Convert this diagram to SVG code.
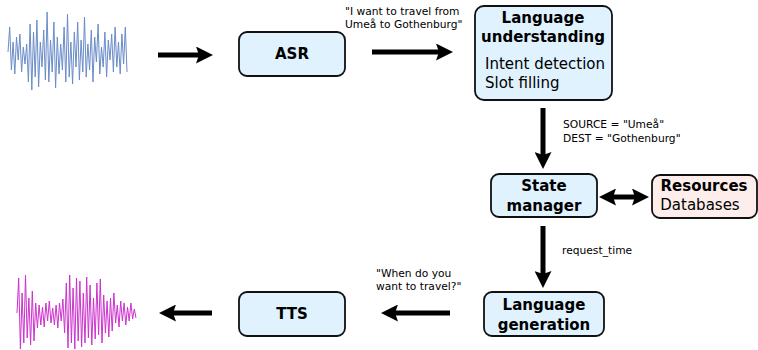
<svg xmlns="http://www.w3.org/2000/svg" width="758" height="350" viewBox="0 0 758 350">
<style>
text{font-family:"DejaVu Sans","Liberation Sans",sans-serif;fill:#000}
.box{fill:#dff2fd;stroke:#111;stroke-width:1.8}
.res{fill:#fdeeec;stroke:#111;stroke-width:1.8}
.b{font-weight:bold;font-size:15px;text-anchor:middle}
.n{font-size:15px}
.s{font-size:10.7px}
.arr{stroke:#000;stroke-width:5;fill:none;marker-end:url(#ah)}
.wave{fill:none;stroke-width:1;stroke-linejoin:round}
</style>
<defs>
<marker id="ah" markerUnits="userSpaceOnUse" viewBox="0 0 17 17" markerWidth="17" markerHeight="17" refX="4" refY="8.5" orient="auto-start-reverse">
<path d="M0,0 L17,8.5 L0,17 L3,8.5 z" fill="#000"/>
</marker>
</defs>
<rect width="758" height="350" fill="#fff"/>
<g id="wave-in">
<polyline class="wave" stroke="#6a8cc8" points="8,52 9.7,27 11.4,70 13.1,42 14.8,74 16.5,37 18.2,60 19.9,34 21.6,72 23.3,47 25,64 26.7,44 28.4,82 30.1,24 31.8,90 33.5,32 35.2,77 36.9,20 38.6,87 40.3,42 42,67 43.7,30 45.4,80 47.1,12 48.8,82 50.5,40 52.2,72 53.9,22 55.6,88 57.3,37 59,74 60.7,44 62.4,70 64.1,27 65.8,82 67.5,14 69.2,77 70.9,42 72.6,84 74.3,32 76,67 77.7,22 79.4,80 81.1,40 82.8,72 84.5,17 86.2,77 87.9,44 89.6,70 91.3,30 93,82 94.7,37 96.4,62 98.1,24 99.8,74 101.5,47 103.2,67 104.9,32 106.6,77 108.3,40 110,60 111.7,34 113.4,72 115.1,27 116.8,67 118.5,42 120.2,74 121.9,34 123.6,64 125.3,27 127,72"/>
</g>
<g id="wave-out">
<polyline class="wave" stroke="#cc33cc" points="17,313 18.7,278 20.4,349 22.1,293 23.8,343 25.5,275 27.2,338 28.9,298 30.6,345 32.3,291 34,341 35.7,303 37.4,328 39.1,305 40.8,325 42.5,307 44.2,327 45.9,303 47.6,321 49.3,301 51,323 52.7,308 54.4,325 56.1,305 57.8,328 59.5,303 61.2,321 62.9,299 64.6,333 66.3,283 68,348 69.7,275 71.4,343 73.1,288 74.8,349 76.5,278 78.2,341 79.9,281 81.6,347 83.3,293 85,343 86.7,277 88.4,338 90.1,285 91.8,345 93.5,298 95.2,339 96.9,283 98.6,335 100.3,279 102,343 103.7,295 105.4,333 107.1,301 108.8,337 110.5,298 112.2,331 113.9,293 115.6,323 117.3,305 119,327 120.7,301 122.4,321 124.1,303 125.8,325 127.5,307 129.2,321 130.9,303 132.6,319 134.3,309 136,318"/>
</g>
<g id="connectors">
<line class="arr" x1="158" y1="55" x2="200" y2="55"/>
<line class="arr" x1="372" y1="52" x2="440" y2="52"/>
<line class="arr" x1="543" y1="108" x2="543" y2="156"/>
<line class="arr" x1="612" y1="197" x2="636" y2="197" style="marker-start:url(#ah)"/>
<line class="arr" x1="543" y1="226" x2="543" y2="275"/>
<line class="arr" x1="450" y1="313" x2="394" y2="313"/>
<line class="arr" x1="212" y1="313" x2="172" y2="313"/>
<text class="s" x="345" y="15">"I want to travel from</text>
<text class="s" x="345" y="28">Umeå to Gothenburg"</text>
<text class="s" x="563" y="128">SOURCE = "Umeå"</text>
<text class="s" x="563" y="142">DEST = "Gothenburg"</text>
<text class="s" x="562" y="254">request_time</text>
<text class="s" x="376" y="277">"When do you</text>
<text class="s" x="376" y="290">want to travel?"</text>
</g>
<g id="asr">
<rect class="box" x="239" y="32" width="106" height="44" rx="8"/>
<text class="b" x="292" y="59">ASR</text>
</g>
<g id="lu">
<rect class="box" x="475" y="6" width="137" height="94" rx="9"/>
<text class="b" x="543" y="23">Language</text>
<text class="b" x="543" y="42">understanding</text>
<text class="n" x="485" y="69">Intent detection</text>
<text class="n" x="485" y="88">Slot filling</text>
</g>
<g id="state">
<rect class="box" x="491" y="174" width="106" height="43" rx="8"/>
<text class="b" x="544" y="191">State</text>
<text class="b" x="544" y="211">manager</text>
</g>
<g id="resources">
<rect class="res" x="652" y="175" width="105" height="43" rx="8"/>
<text class="b" x="704" y="191">Resources</text>
<text class="n" x="700" y="210" text-anchor="middle">Databases</text>
</g>
<g id="lg">
<rect class="box" x="484" y="292" width="120" height="44" rx="8"/>
<text class="b" x="544" y="310">Language</text>
<text class="b" x="544" y="330">generation</text>
</g>
<g id="tts">
<rect class="box" x="239" y="292" width="106" height="44" rx="8"/>
<text class="b" x="292" y="319">TTS</text>
</g>
</svg>
